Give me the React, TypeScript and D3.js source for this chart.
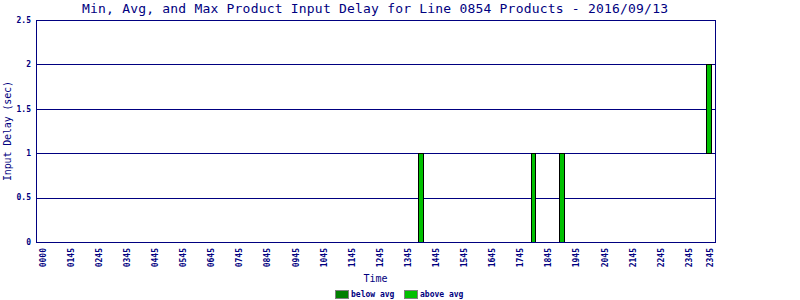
import React from "react";
import * as d3 from "d3";

const slotCount = 96;
const slots: number[] = Array.from({ length: slotCount }, (_, i) => i);
const tickSlots = [0, 4, 8, 12, 16, 20, 24, 28, 32, 36, 40, 44, 48, 52, 56, 60, 64, 68, 72, 76, 80, 84, 88, 92, 95];
const tickLabels = ["0000", "0145", "0245", "0345", "0445", "0545", "0645", "0745", "0845", "0945", "1045", "1145", "1245", "1345", "1445", "1545", "1645", "1745", "1845", "1945", "2045", "2145", "2245", "2345", "2345"];
const yTicks = [0, 0.5, 1, 1.5, 2, 2.5];
const yTickLabels = ["0", "0.5", "1", "1.5", "2", "2.5"];

const barSlots = [54, 70, 74, 95];
const minVals = [0, 0, 0, 1];
const avgVals = [0, 0, 0, 1];
const maxVals = [1, 1, 1, 2];

const legendNames = ["below avg", "above avg"];
const legendColors = ["#008000", "#00c000"];

const W = 800, H = 300;
const left = 36, right = 715, top = 20, bottom = 242;
const navy = "#000080";
const font = "'DejaVu Sans Mono', monospace";

export default function App() {
  const x = d3.scaleBand<number>().domain(slots).range([left, right]).paddingInner(0.3).paddingOuter(0.5);
  const y = d3.scaleLinear().domain([0, 2.5]).range([bottom, top]);
  const bw = x.bandwidth();

  return (
    <svg width={W} height={H} style={{ position: "fixed", left: 0, top: 0, background: "#fff" }} shapeRendering="crispEdges">
      <rect x={0} y={0} width={W} height={H} fill="#fff" />
      <text x={375} y={13} textAnchor="middle" fontFamily={font} fontSize={13} fill={navy} textLength={586} lengthAdjust="spacing">
        Min, Avg, and Max Product Input Delay for Line 0854 Products - 2016/09/13
      </text>
      {/* grid lines */}
      {yTicks.map((t) => (
        <line key={"g" + t} x1={left} x2={right} y1={Math.round(y(t)) + 0.5} y2={Math.round(y(t)) + 0.5} stroke={navy} strokeWidth={1} />
      ))}
      {/* bars */}
      {barSlots.map((s, i) => {
        const bx = x(s)!;
        return (
          <g key={"b" + s}>
            {avgVals[i] > minVals[i] && (
              <rect x={bx} y={y(avgVals[i])} width={bw} height={y(minVals[i]) - y(avgVals[i])} fill={legendColors[0]} stroke="#000" strokeWidth={1} />
            )}
            {maxVals[i] > avgVals[i] && (
              <rect x={bx} y={y(maxVals[i])} width={bw} height={y(avgVals[i]) - y(maxVals[i])} fill={legendColors[1]} stroke="#000" strokeWidth={1} />
            )}
          </g>
        );
      })}
      {/* axes */}
      <line x1={left + 0.5} x2={left + 0.5} y1={top} y2={bottom + 1} stroke={navy} />
      <line x1={right + 0.5} x2={right + 0.5} y1={top} y2={bottom + 1} stroke={navy} />
      <line x1={left} x2={right + 1} y1={Math.round(y(0)) + 0.5} y2={Math.round(y(0)) + 0.5} stroke={navy} />
      {yTicks.map((t, i) => (
        <text key={"yt" + t} x={31} y={y(t)} dy="0.35em" textAnchor="end" fontFamily={font} fontSize={8} fontWeight="bold" fill={navy}>
          {yTickLabels[i]}
        </text>
      ))}
      {tickSlots.map((s, i) => {
        const cx = x(s)! + bw / 2 + 1;
        return (
          <text key={"xt" + i} transform={`translate(${cx},${bottom + 6}) rotate(-90)`} dy="0.35em" textAnchor="end" fontFamily={font} fontSize={8} fontWeight="bold" fill={navy}>
            {tickLabels[i]}
          </text>
        );
      })}
      <text transform={`translate(7,${(top + bottom) / 2}) rotate(-90)`} dy="0.35em" textAnchor="middle" fontFamily={font} fontSize={10} fill={navy} textLength={100} lengthAdjust="spacing">
        Input Delay (sec)
      </text>
      <text x={(left + right) / 2} y={282} textAnchor="middle" fontFamily={font} fontSize={10} fill={navy}>
        Time
      </text>
      {legendNames.map((n, i) => {
        const lx = 335 + i * 69;
        return (
          <g key={n}>
            <rect x={lx + 0.5} y={290.5} width={13} height={8} fill={legendColors[i]} stroke="#808080" />
            <text x={lx + 16} y={297} fontFamily={font} fontSize={8} fontWeight="bold" fill={navy}>
              {n}
            </text>
          </g>
        );
      })}
    </svg>
  );
}
